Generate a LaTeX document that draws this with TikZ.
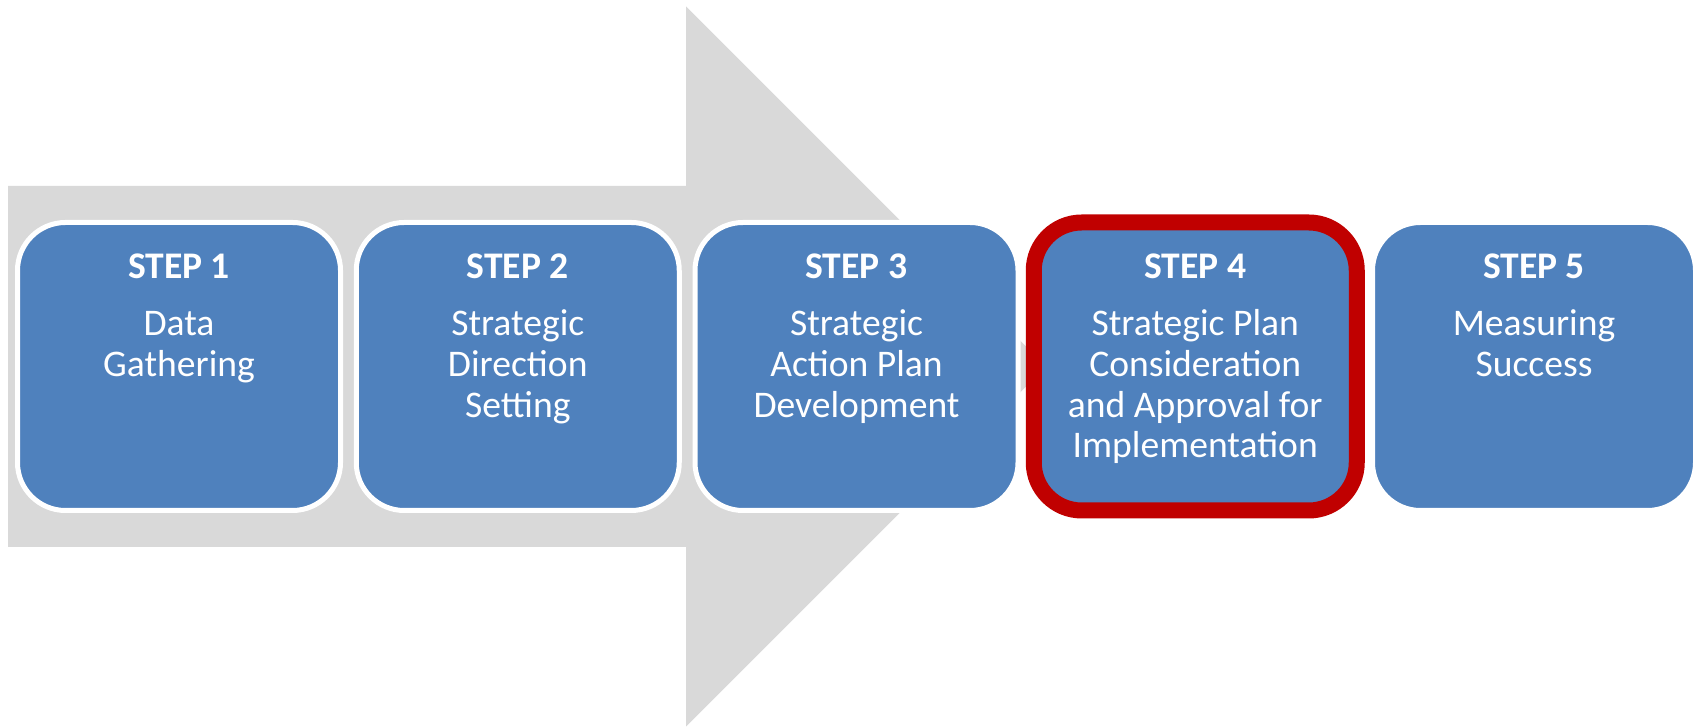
\documentclass[tikz,border=0pt]{standalone}
\usepackage{fontspec}
\setmainfont{Carlito}
\usetikzlibrary{positioning}
\definecolor{stepblue}{HTML}{4F81BD}
\definecolor{arrowgray}{HTML}{D9D9D9}
\definecolor{stepred}{HTML}{C00000}

\begin{document}
\begin{tikzpicture}[line cap=round,line join=round,x=0.5pt,y=0.5pt,
  stepbox/.style={rectangle,rounded corners=24pt,fill=stepblue,draw=white,line width=2.5pt,
    minimum width=161.5pt,minimum height=144pt,outer sep=0pt,inner sep=0pt},
  steptext/.style={text=white,align=center,inner sep=0pt,font=\fontsize{18.8}{20.4}\selectfont}]
\useasboundingbox (0,0) rectangle (1698,727);
% big grey arrow behind the steps
\fill[arrowgray] (8,180) -- (8,541) -- (686,541) -- (686,720.5) -- (1046,360.5) -- (686,0.5) -- (686,180) -- cycle;
\foreach \i/\txt in
{1/{Data\\Gathering},
 2/{Strategic\\Direction\\Setting},
 3/{Strategic\\Action Plan\\Development},
 4/{Strategic Plan\\Consideration\\and Approval for\\Implementation},
 5/{Measuring\\Success}}
{
    \node[stepbox] (step\i) at ({179+338.75*(\i-1)},360.5) {};
    \node[steptext,below=15.6pt of step\i.north] (label\i) {\textbf{STEP \i}\\[8pt]\txt};
};
%current step
\draw[stepred,line width=8pt,rounded corners=24pt] (step4.south west) rectangle (step4.north east);
\end{tikzpicture}
\end{document}
